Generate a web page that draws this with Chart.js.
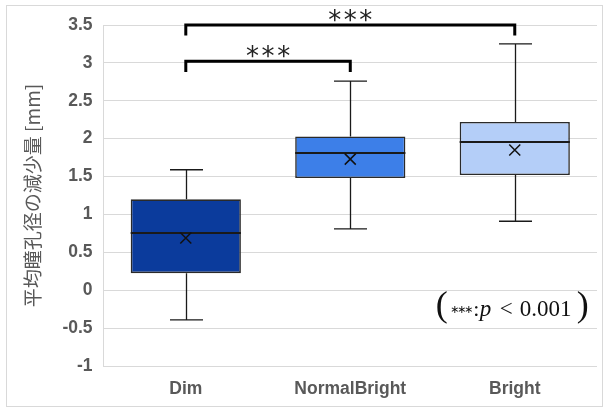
<!DOCTYPE html>
<html>
<head>
<meta charset="utf-8">
<script src="https://cdn.jsdelivr.net/npm/chart.js@4/dist/chart.umd.min.js"></script>
<style>
html,body{margin:0;padding:0;background:#fff;}
#wrap{width:605px;height:409px;}
</style>
</head>
<body>
<div id="wrap"><canvas id="c" width="605" height="409"></canvas></div>
<script>
// ---- data ----
const categories = ['Dim', 'NormalBright', 'Bright'];
const mins    = [-0.39, 0.81, 0.91];
const q1s     = [0.225, 1.48, 1.52];
const medians = [0.75, 1.81, 1.96];
const q3s     = [1.20, 2.03, 2.22];
const maxs    = [1.59, 2.76, 3.25];
const means   = [0.69, 1.73, 1.85];
const boxColors = ['#0B3B9C', '#3D7FE8', '#B4CEF8'];
const yMin = -1, yMax = 3.5, yStep = 0.5;
const bracketPairs = [[0, 1], [0, 2]];
const bracketLevels = [3.02, 3.5];
const bracketDrop = 0.14;
const bracketLabel = '***';
const noteAnchor = {cat: 2, value: -0.25};

const boxes = categories.map((c, i) => [q1s[i], q3s[i]]);

const gray = '#595959';

const framePlugin = {
  id: 'frame',
  beforeDraw(chart) {
    const ctx = chart.ctx;
    ctx.save();
    ctx.fillStyle = '#fff';
    ctx.fillRect(0, 0, chart.width, chart.height);
    ctx.strokeStyle = '#d9d9d9';
    ctx.lineWidth = 1;
    ctx.strokeRect(6.5, 5.5, 596, 401);
    ctx.restore();
  }
};

const whiskerPlugin = {
  id: 'whiskers',
  afterDatasetsDraw(chart) {
    const ctx = chart.ctx, x = chart.scales.x, y = chart.scales.y;
    const meta = chart.getDatasetMeta(1);
    ctx.save();
    ctx.strokeStyle = '#1a1a1a';
    ctx.lineWidth = 1.3;
    const cap = 16.5;
    categories.forEach((c, i) => {
      const cx = Math.round(x.getPixelForValue(i)) + 0.5;
      const segs = [[q3s[i], maxs[i]], [q1s[i], mins[i]]];
      segs.forEach(([a, b]) => {
        const ya = y.getPixelForValue(a), yb = y.getPixelForValue(b);
        ctx.beginPath();
        ctx.moveTo(cx, ya); ctx.lineTo(cx, yb);
        ctx.moveTo(cx - cap, yb); ctx.lineTo(cx + cap, yb);
        ctx.stroke();
      });
    });
    // medians
    ctx.strokeStyle = '#1a1a1a';
    ctx.lineWidth = 2;
    meta.data.forEach((bar, i) => {
      const half = bar.width / 2;
      const ym = Math.round(y.getPixelForValue(medians[i]));
      ctx.beginPath();
      ctx.moveTo(bar.x - half, ym); ctx.lineTo(bar.x + half, ym);
      ctx.stroke();
    });
    ctx.restore();
  },
  afterDraw(chart) {
    const ctx = chart.ctx, x = chart.scales.x, y = chart.scales.y;
    ctx.save();
    // mean markers on top
    const pm = chart.getDatasetMeta(0);
    ctx.strokeStyle = '#111';
    ctx.lineWidth = 1.5;
    pm.data.forEach(pt => {
      const r = 5.5;
      ctx.beginPath();
      ctx.moveTo(pt.x - r, pt.y - r); ctx.lineTo(pt.x + r, pt.y + r);
      ctx.moveTo(pt.x - r, pt.y + r); ctx.lineTo(pt.x + r, pt.y - r);
      ctx.stroke();
    });
    // brackets
    ctx.strokeStyle = '#000';
    ctx.lineWidth = 3;
    ctx.lineJoin = 'miter';
    bracketPairs.forEach(([a, b], k) => {
      const xa = x.getPixelForValue(a), xb = x.getPixelForValue(b);
      const yl = y.getPixelForValue(bracketLevels[k]);
      const yd = y.getPixelForValue(bracketLevels[k] - bracketDrop);
      ctx.beginPath();
      ctx.moveTo(xa, yd); ctx.lineTo(xa, yl); ctx.lineTo(xb, yl); ctx.lineTo(xb, yd);
      ctx.stroke();
      ctx.fillStyle = '#222';
      ctx.font = '26px "DejaVu Sans"';
      ctx.textAlign = 'center';
      ctx.textBaseline = 'alphabetic';
      const spaced = bracketLabel.split('').join('\u200A');
      const m = ctx.measureText(spaced);
      const cy = yl - 10;
      const base = cy + (m.actualBoundingBoxAscent - m.actualBoundingBoxDescent) / 2;
      ctx.fillText(spaced, (xa + xb) / 2, base);
    });
    // note
    const cx = x.getPixelForValue(noteAnchor.cat) - 2;
    const base = y.getPixelForValue(noteAnchor.value) + 7;
    ctx.fillStyle = '#111';
    ctx.textBaseline = 'alphabetic';
    ctx.textAlign = 'left';
    ctx.font = '36px "Liberation Serif"';
    ctx.fillText('(', cx - 77, base);
    ctx.fillText(')', cx + 64, base);
    ctx.textAlign = 'center';
    ctx.font = '11px "DejaVu Sans"';
    [-58, -51, -44].forEach(dx => ctx.fillText('\u2217', cx + dx, base - 3));
    ctx.font = '22px "Liberation Serif"';
    ctx.fillText(':', cx - 36.5, base);
    ctx.textAlign = 'left';
    ctx.font = 'italic 23px "Liberation Serif"';
    ctx.fillText('p', cx - 33, base);
    ctx.font = '23px "Liberation Serif"';
    ctx.fillText('<', cx - 13, base);
    ctx.fillText('0.001', cx + 7, base);
    ctx.restore();
  }
};

new Chart(document.getElementById('c'), {
  data: {
    labels: categories,
    datasets: [
      {
        type: 'line', data: means, showLine: false, order: 0,
        pointRadius: 0, borderColor: '#111'
      },
      {
        type: 'bar', data: boxes, backgroundColor: boxColors, order: 1,
        borderColor: '#2a2a2a', borderWidth: 1.6, borderSkipped: false,
        grouped: false, categoryPercentage: 0.67, barPercentage: 1
      }
    ]
  },
  options: {
    responsive: false,
    animation: false,
    layout: {padding: {left: 17.6, right: 8, top: 25, bottom: -2.5}},
    plugins: {legend: {display: false}, tooltip: {enabled: false}},
    scales: {
      x: {
        type: 'category',
        grid: {display: false, drawTicks: false},
        border: {display: false},
        ticks: {color: gray, padding: 14,
          font: {family: 'Liberation Sans', size: 17.5, weight: 'bold', lineHeight: 1.0}}
      },
      y: {
        min: yMin, max: yMax,
        grid: {color: '#d9d9d9', lineWidth: 1, drawTicks: false},
        border: {display: true, color: '#d9d9d9'},
        ticks: {stepSize: yStep, color: gray, padding: 11,
          callback: v => String(v),
          font: {family: 'Liberation Sans', size: 17.5, weight: 'bold'}},
        title: {display: true, text: '平均瞳孔径の減少量 [mm]', color: gray,
          padding: {top: 4, bottom: 7},
          font: {family: 'Noto Sans CJK JP', size: 19, weight: 'normal'}}
      }
    }
  },
  plugins: [framePlugin, whiskerPlugin]
});
</script>
</body>
</html>
